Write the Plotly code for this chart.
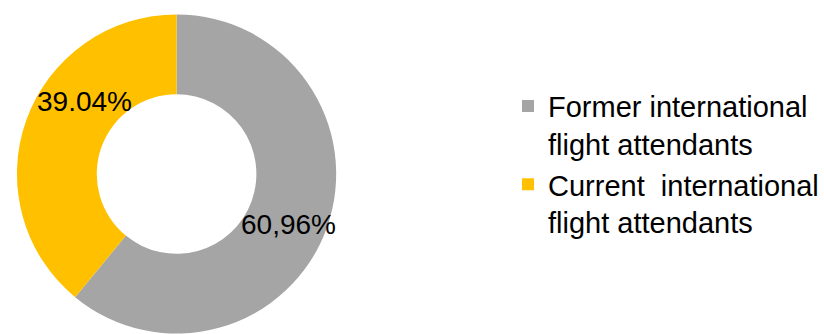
import plotly.graph_objects as go

# Share of respondents by employment status
groups = ["Former international<br>flight attendants",
          "Current  international<br>flight attendants"]
shares = [60.96, 39.04]
share_labels = ["60,96%", "39.04%"]
slice_colors = ["#A5A5A5", "#FFC000"]

W, H = 824, 334
FONT = "Liberation Sans, Arial, sans-serif"

# Where each share label sits (paper coordinates)
label_pos = [(0.3513, 0.341), (0.1025, 0.728)]

fig = go.Figure(
    go.Pie(
        labels=groups,
        values=shares,
        textinfo="none",
        marker=dict(colors=slice_colors, line=dict(width=0)),
        hole=0.5,
        sort=False,
        direction="clockwise",
        rotation=0,
        domain=dict(x=[17 / W, 337 / W], y=[0, 1]),
        hoverinfo="label+percent",
    )
)

for txt, (px, py) in zip(share_labels, label_pos):
    fig.add_annotation(
        x=px, y=py, xref="paper", yref="paper",
        text=txt, showarrow=False,
        xanchor="center", yanchor="middle",
        font=dict(family=FONT, size=28, color="#000000"),
    )

fig.update_layout(
    width=W,
    height=H,
    margin=dict(l=0, r=0, t=14, b=0),
    paper_bgcolor="white",
    plot_bgcolor="white",
    showlegend=True,
    legend=dict(
        x=0.618,
        xanchor="left",
        y=0.792,
        yanchor="top",
        valign="top",
        font=dict(family=FONT, size=29, color="#000000"),
        bgcolor="rgba(0,0,0,0)",
        itemwidth=30,
    ),
)

fig.write_html("out.html")
